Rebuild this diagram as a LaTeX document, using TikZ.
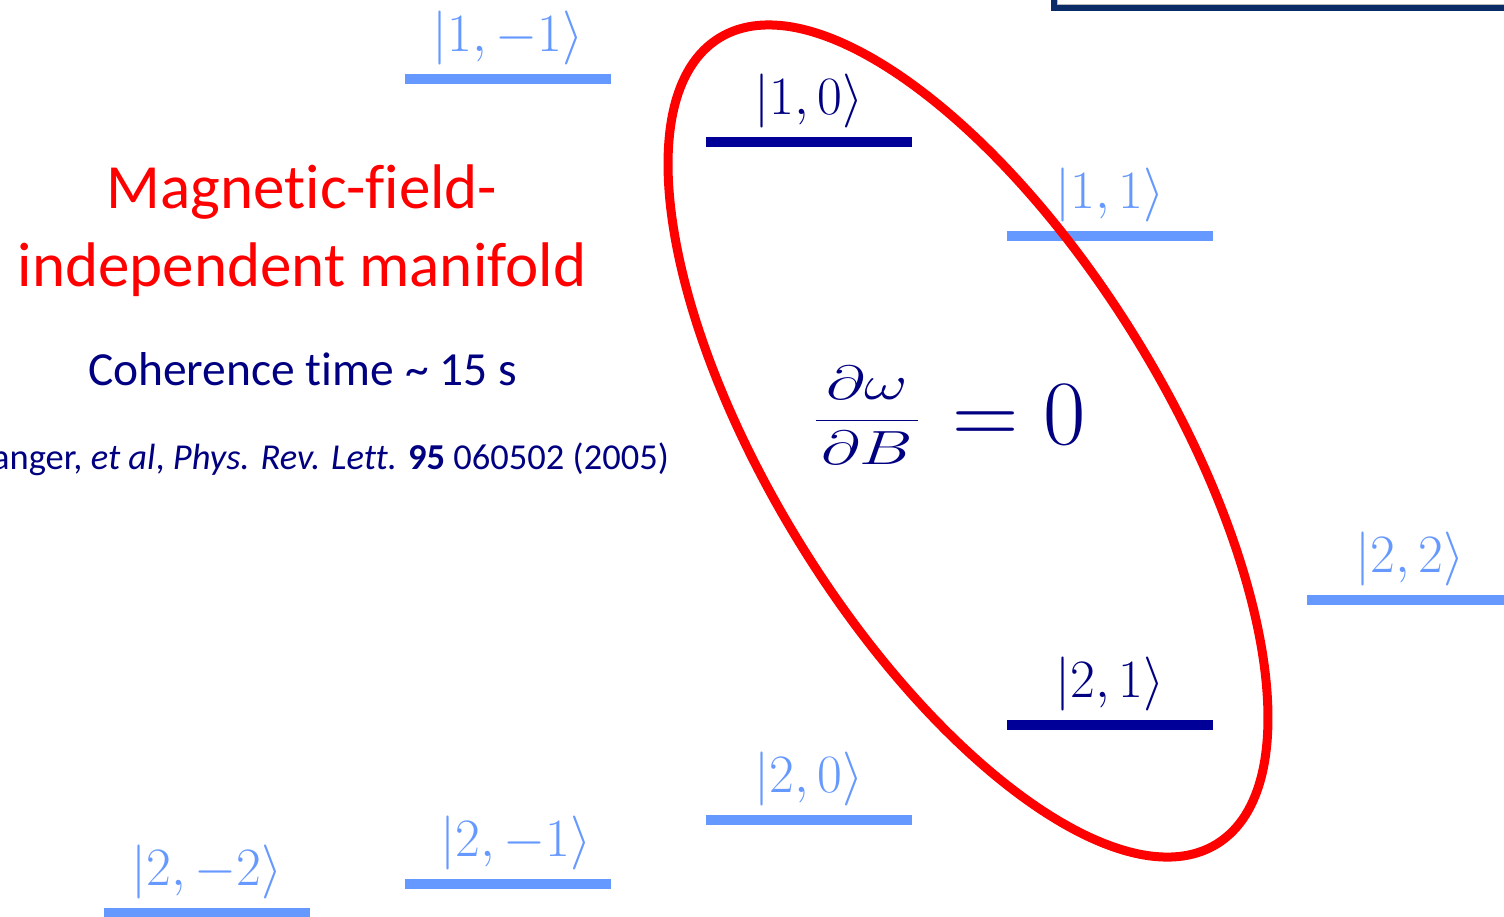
\RequirePackage{fix-cm}
\documentclass[tikz,border=0pt]{standalone}
\usepackage{fontspec}
\usepackage{graphicx}
\newfontfamily\calibri[Ligatures=NoCommon]{Carlito}
\usepackage{tikz}
\usetikzlibrary{positioning}
\definecolor{lvllight}{HTML}{6699FF}
\definecolor{lvldark}{HTML}{000099}
\definecolor{txtdark}{HTML}{000080}
\definecolor{manired}{HTML}{FF0000}
\definecolor{framenavy}{HTML}{0B2A68}

\begin{document}
\begin{tikzpicture}[x=1pt,y=1pt,
  lvl/.style={fill,minimum width=206pt,minimum height=10pt,inner sep=0pt,outer sep=0pt},
  ket/.style={inner sep=0pt,outer sep=0pt,font=\fontsize{54}{60}\selectfont,above=9pt of #1},
  sans/.style={inner sep=0pt,font=\calibri\fontsize{#1}{#1}\selectfont}]
\useasboundingbox (0,0) rectangle (1504,-916);
% frame of the box cut off at the top right
\draw[framenavy,line width=6pt] (1054,20) |- (1530,-8);
\draw[gray!55,line width=1pt] (1057.5,20) |- (1530,-4.5);
% levels F=1
\node[lvl,lvllight] (l1m1) at (508,-79) {};
\node[lvl,lvldark] (l10) at (809,-142) {};
\node[lvl,lvllight] (l11) at (1110,-236) {};
% levels F=2
\node[lvl,lvllight] (l2m2) at (207,-913) {};
\node[lvl,lvllight] (l2m1) at (508,-884) {};
\node[lvl,lvllight] (l20) at (809,-820) {};
\node[lvl,lvldark] (l21) at (1110,-725) {};
\node[lvl,lvllight] (l22) at (1410,-600) {};
% labels
\node[ket=l1m1,text=lvllight] (k1m1) {$|1,-1\rangle$};
\node[ket=l10,text=txtdark] (k10) {$|1,0\rangle$};
\node[ket=l11,text=lvllight] (k11) {$|1,1\rangle$};
\node[ket=l2m2,text=lvllight] (k2m2) {$|2,-2\rangle$};
\node[ket=l2m1,text=lvllight,xshift=8pt] (k2m1) {$|2,-1\rangle$};
\node[ket=l20,text=lvllight] (k20) {$|2,0\rangle$};
\node[ket=l21,text=txtdark] (k21) {$|2,1\rangle$};
\node[ket=l22,text=lvllight] (k22) {$|2,2\rangle$};
% text on the left
\node[sans=63,text=manired,anchor=base] (title1) at (302,-208) {Magnetic-field-};
\node[sans=63,text=manired,anchor=base] (title2) at (302,-286) {independent manifold};
\node[sans=47.5,text=txtdark,anchor=base] (coh) at (302.5,-385) {Coherence time \textasciitilde{} 15 s};
\node[sans=36.5,text=txtdark,anchor=base east] (cite) at (669,-469)
  {Langer, \textit{et al}, \textit{Phys. Rev. Lett.} \textbf{95} 060502 (2005)};
% condition
\node[inner sep=0pt,text=txtdark,anchor=base] (eqfrac) at (867,-432)
  {\scalebox{1.4}[1]{\fontsize{48}{58}\selectfont$\displaystyle\frac{\partial\omega}{\kern4pt\partial B\kern4pt}$}};
\node[inner sep=0pt,text=txtdark,anchor=base west,font=\fontsize{92}{100}\selectfont] (eqzero) at (952,-444) {$=0$};
% manifold
\draw[manired,line width=9pt,rotate around={-58.3:(968,-441)}] (968,-441) ellipse [x radius=473.6,y radius=196.8];
\end{tikzpicture}
\end{document}
